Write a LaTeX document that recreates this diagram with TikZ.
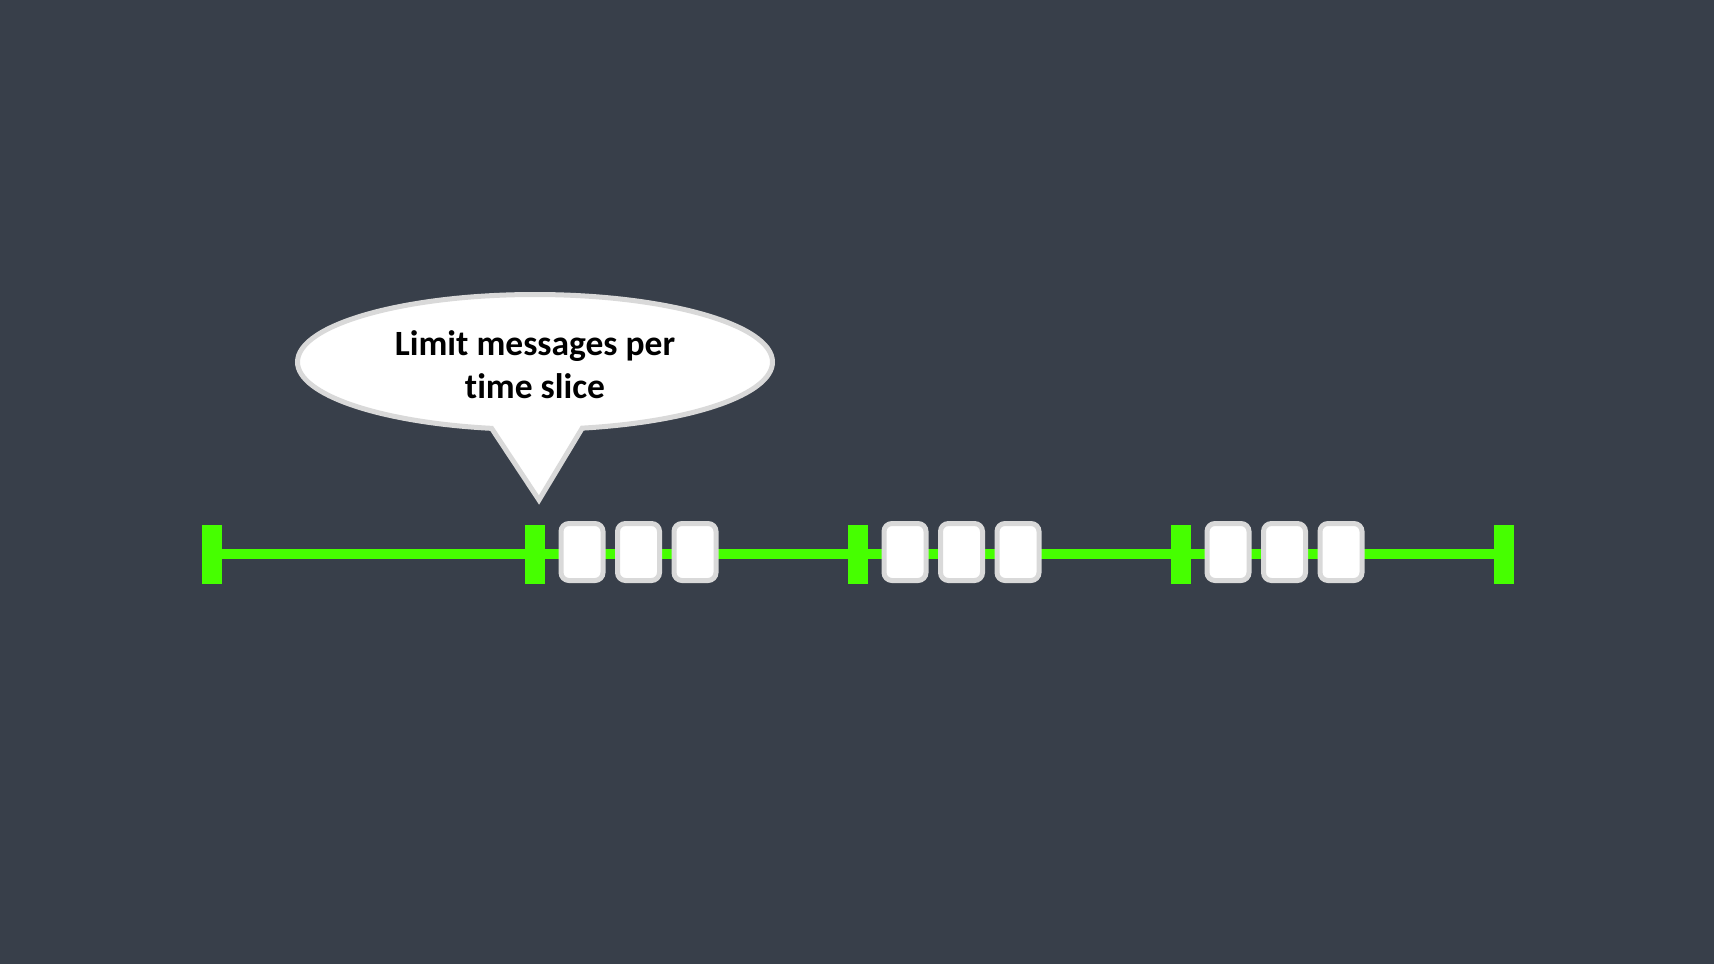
\documentclass[tikz,border=0pt]{standalone}
\usepackage{fontspec}
\setmainfont[Ligatures={NoCommon,NoRare,NoDiscretionary,NoContextual}]{Carlito}
\usetikzlibrary{shapes.callouts}
\definecolor{bgc}{RGB}{56,63,74}
\definecolor{grn}{RGB}{70,255,0}
\definecolor{bord}{RGB}{217,217,217}
\tikzset{
  tick/.style={rectangle, fill=grn, inner sep=0pt, minimum width=20pt, minimum height=59pt},
  msg/.style={rectangle, rounded corners=8pt, fill=white, draw=bord, line width=5pt, inner sep=0pt, minimum width=42pt, minimum height=57pt},
  tl/.style={draw=grn, line width=10pt},
  bubble/.style={ellipse callout, fill=white, draw=bord, line width=5pt, inner sep=0pt,
    minimum width=475pt, minimum height=135pt, callout pointer arc=22, align=center,
    font=\fontsize{35.5}{43}\selectfont\bfseries}
}
\begin{document}
\begin{tikzpicture}[x=1pt,y=-1pt]
\fill[bgc] (0,0) rectangle (1714,964);
\useasboundingbox (0,0) rectangle (1714,964);
\node[tick] (t1) at (212,554) {};
\node[tick] (t2) at (535,554) {};
\node[tick] (t3) at (858,554) {};
\node[tick] (t4) at (1181,554) {};
\node[tick] (t5) at (1504,554) {};
\draw[tl] (t1.center) -- (t5.center);
\foreach \t/\n in {535/a,858/b,1181/c}{
  \node[msg] (\n1) at (\t+47,552) {};
  \node[msg] (\n2) at (\t+103.5,552) {};
  \node[msg] (\n3) at (\t+160,552) {};
}
\coordinate (tip) at (539,500);
\node[bubble, callout absolute pointer={(tip)}] (call) at (535,362) {};
\node[font=\fontsize{35.5}{43}\selectfont\bfseries, align=center, inner sep=0pt] (lbl) at (535,365) {Limit messages per\\time slice};
\end{tikzpicture}
\end{document}
